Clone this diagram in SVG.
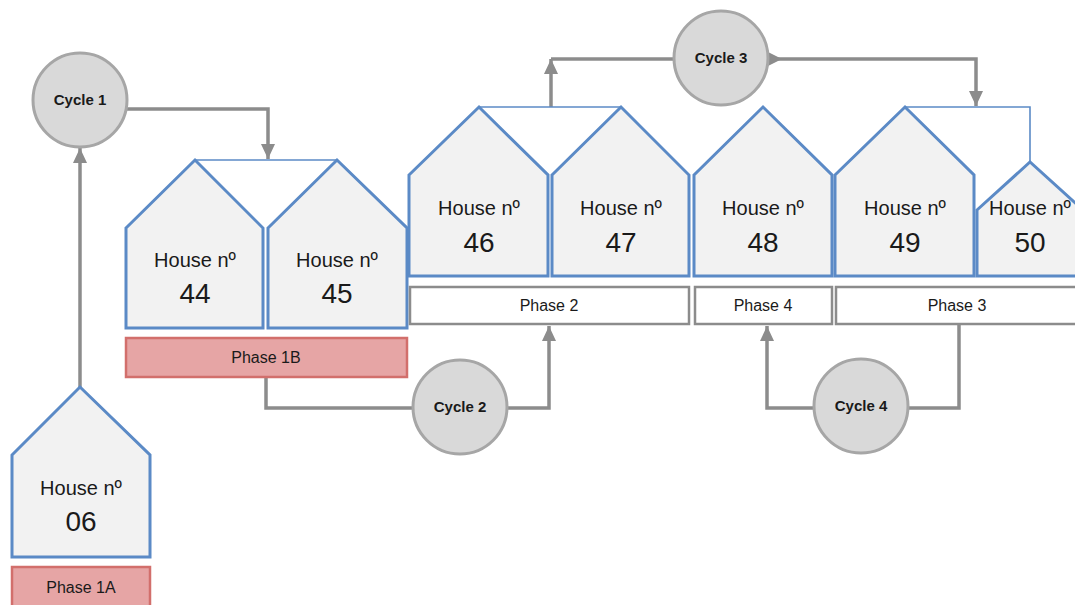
<svg xmlns="http://www.w3.org/2000/svg" width="1075" height="605" viewBox="0 0 1075 605">
<defs>
<style>
.house{fill:#F2F2F2;stroke:#5B8AC6;stroke-width:3;stroke-linejoin:miter}
.tie{fill:none;stroke:#5B8AC6;stroke-width:1.6}
.ht{font-family:"Liberation Sans",Arial,sans-serif;font-size:20px;fill:#1a1a1a;text-anchor:middle}
.hn{font-family:"Liberation Sans",Arial,sans-serif;font-size:28px;fill:#1a1a1a;text-anchor:middle}
.phw{fill:#FFFFFF;stroke:#8C8C8C;stroke-width:2.5}
.php{fill:#E6A5A5;stroke:#D26F6C;stroke-width:2.5}
.pt{font-family:"Liberation Sans",Arial,sans-serif;font-size:16px;fill:#1a1a1a;text-anchor:middle}
.cyc{fill:#D9D9D9;stroke:#A6A6A6;stroke-width:3}
.ct{font-family:"Liberation Sans",Arial,sans-serif;font-size:15px;font-weight:bold;fill:#1a1a1a;text-anchor:middle}
.con{fill:none;stroke:#8C8C8C;stroke-width:3.5}
</style>
<marker id="arrow" markerUnits="userSpaceOnUse" markerWidth="16" markerHeight="14" refX="15" refY="7" orient="auto">
<path d="M0,0 L15,7 L0,14 Z" fill="#8C8C8C"/>
</marker>
<marker id="arrowStart" markerUnits="userSpaceOnUse" markerWidth="16" markerHeight="14" refX="0" refY="7" orient="auto">
<path d="M0,0 L14,7 L0,14 Z" fill="#8C8C8C"/>
</marker>
</defs>
<rect width="1075" height="605" fill="#FFFFFF"/>

<g id="connectors">
<path class="con" d="M80,387 V148" marker-end="url(#arrow)"/>
<path class="con" d="M127,109 H268 V159" marker-end="url(#arrow)"/>
<path class="con" d="M266,377 V408 H414"/>
<path class="con" d="M507,408 H549 V326" marker-end="url(#arrow)"/>
<path class="con" d="M551,107 V59" marker-end="url(#arrow)"/>
<path class="con" d="M551,59 H674"/>
<path class="con" d="M768,59 H976 V106" marker-start="url(#arrowStart)" marker-end="url(#arrow)"/>
<path class="con" d="M908,408 H959 V325"/>
<path class="con" d="M814,408 H767 V326" marker-end="url(#arrow)"/>
<path class="tie" d="M195,160 H337"/>
<path class="tie" d="M479,107 H621"/>
<path class="tie" d="M905,107 H1030 V162"/>
</g>

<g id="cycle1"><circle class="cyc" cx="80" cy="100" r="47"/><text class="ct" x="80" y="105">Cycle 1</text></g>
<g id="cycle2"><circle class="cyc" cx="460" cy="407" r="47"/><text class="ct" x="460" y="412">Cycle 2</text></g>
<g id="cycle3"><circle class="cyc" cx="721" cy="58" r="47"/><text class="ct" x="721" y="63">Cycle 3</text></g>
<g id="cycle4"><circle class="cyc" cx="861" cy="406" r="47"/><text class="ct" x="861" y="411">Cycle 4</text></g>

<g id="house06"><polygon class="house" points="12,455 80,387 150,455 150,557 12,557"/><text class="ht" x="81" y="495">House nº</text><text class="hn" x="81" y="531">06</text></g>
<g id="house44"><polygon class="house" points="126,228 195,160 263,228 263,328 126,328"/><text class="ht" x="195" y="267">House nº</text><text class="hn" x="195" y="303">44</text></g>
<g id="house45"><polygon class="house" points="268,228 337,160 407,228 407,328 268,328"/><text class="ht" x="337" y="267">House nº</text><text class="hn" x="337" y="303">45</text></g>
<g id="house46"><polygon class="house" points="409,175 479,107 548,175 548,276 409,276"/><text class="ht" x="479" y="215">House nº</text><text class="hn" x="479" y="252">46</text></g>
<g id="house47"><polygon class="house" points="552,175 621,107 689,175 689,276 552,276"/><text class="ht" x="621" y="215">House nº</text><text class="hn" x="621" y="252">47</text></g>
<g id="house48"><polygon class="house" points="694,175 763,107 832,175 832,276 694,276"/><text class="ht" x="763" y="215">House nº</text><text class="hn" x="763" y="252">48</text></g>
<g id="house49"><polygon class="house" points="835,175 905,107 974,175 974,276 835,276"/><text class="ht" x="905" y="215">House nº</text><text class="hn" x="905" y="252">49</text></g>
<g id="house50"><polygon class="house" points="977,210 1030,162 1083,210 1083,276 977,276"/><text class="ht" x="1030" y="215">House nº</text><text class="hn" x="1030" y="252">50</text></g>

<g id="phase1A"><rect class="php" x="12" y="567" width="138" height="40"/><text class="pt" x="81" y="593">Phase 1A</text></g>
<g id="phase1B"><rect class="php" x="126" y="338" width="281" height="39"/><text class="pt" x="266" y="363">Phase 1B</text></g>
<g id="phase2"><rect class="phw" x="410" y="287" width="279" height="37"/><text class="pt" x="549" y="311">Phase 2</text></g>
<g id="phase4"><rect class="phw" x="695" y="287" width="137" height="37"/><text class="pt" x="763" y="311">Phase 4</text></g>
<g id="phase3"><rect class="phw" x="836" y="287" width="250" height="37"/><text class="pt" x="957" y="311">Phase 3</text></g>
</svg>
